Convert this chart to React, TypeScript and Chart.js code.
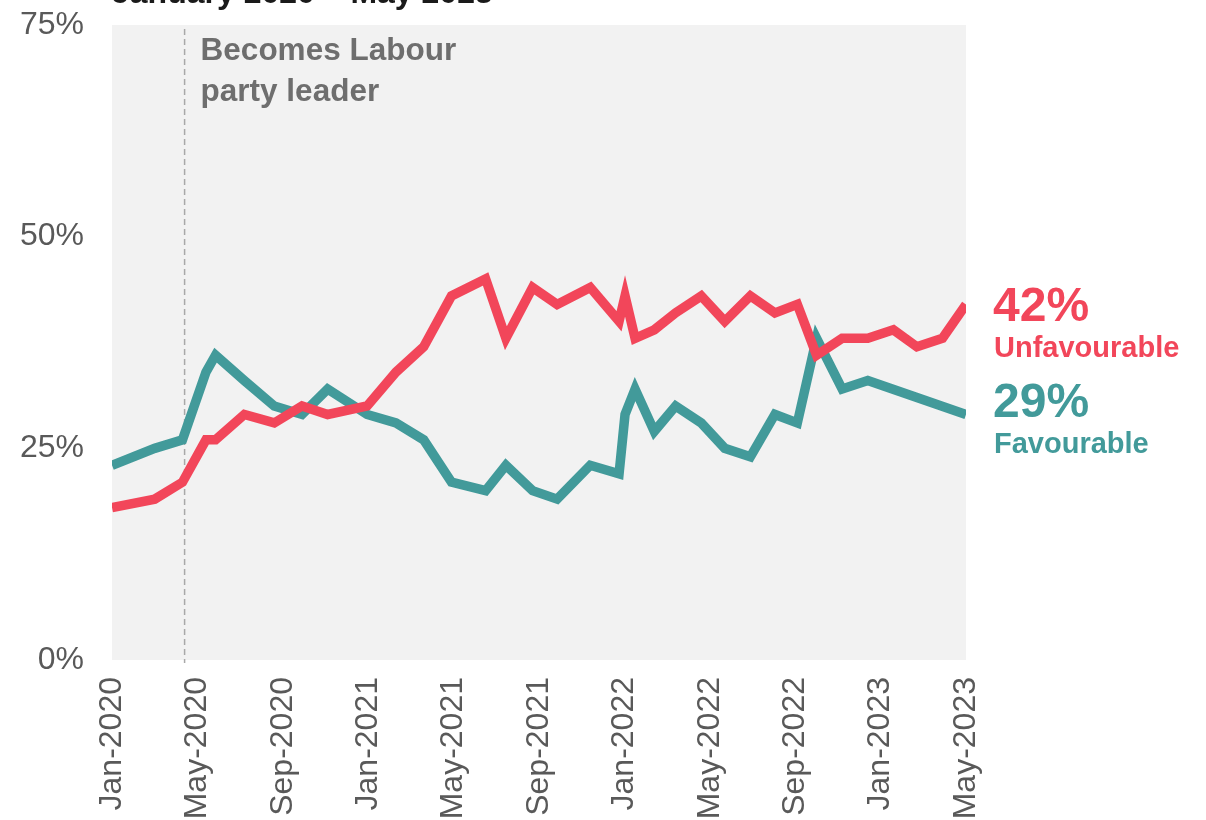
import React, { useEffect, useRef } from 'react';
import { Chart, registerables } from 'chart.js';

Chart.register(...registerables);

// Months since Jan-2020 for each survey wave
const surveyMonths = [0, 2, 3.3, 4.4, 4.85, 6.2, 7.6, 8.9, 10.1, 11.95, 13.3, 14.6, 15.9, 17.5, 18.45, 19.7, 20.85, 22.4, 23.75, 24.03, 24.5, 25.4, 26.4, 27.6, 28.7, 29.9, 31.05, 32.1, 33.0, 34.2, 35.4, 36.6, 37.7, 38.9, 40];
const unfavourable = [18, 19, 21, 26, 26, 29, 28, 30, 29, 30, 34, 37, 43, 45, 38, 44, 42, 44, 40, 43, 38, 39, 41, 43, 40, 43, 41, 42, 36, 38, 38, 39, 37, 38, 42];
const favourable = [23, 25, 26, 34, 36, 33, 30, 29, 32, 29, 28, 26, 21, 20, 23, 20, 19, 23, 22, 29, 32, 27, 30, 28, 25, 24, 29, 28, 38, 32, 33, null, 31, null, 29];

const xTickLabels = ['Jan-2020', 'May-2020', 'Sep-2020', 'Jan-2021', 'May-2021', 'Sep-2021', 'Jan-2022', 'May-2022', 'Sep-2022', 'Jan-2023', 'May-2023'];
const xTickStep = 4;
const yTicks = [0, 25, 50, 75];
const leaderMonth = 3.4;

const titleText = 'January 2020 – May 2023';
const annotationLines = ['Becomes Labour', 'party leader'];
const endLabels = [
  { value: '42%', name: 'Unfavourable', color: '#f2465a' },
  { value: '29%', name: 'Favourable', color: '#429a9a' },
];

const RED = '#f2465a';
const TEAL = '#429a9a';
const FONT = '"Liberation Sans", Arial, Helvetica, sans-serif';

export default function App() {
  const canvasRef = useRef<HTMLCanvasElement | null>(null);

  useEffect(() => {
    const canvas = canvasRef.current;
    if (!canvas) return;

    const bgPlugin = {
      id: 'bgPlugin',
      beforeDraw(chart: any) {
        const { ctx, chartArea } = chart;
        ctx.save();
        ctx.fillStyle = '#ffffff';
        ctx.fillRect(0, 0, chart.width, chart.height);
        ctx.fillStyle = '#f2f2f2';
        ctx.fillRect(chartArea.left, chartArea.top, chartArea.right - chartArea.left, chartArea.bottom - chartArea.top);
        ctx.restore();
      },
      beforeDatasetsDraw(chart: any) {
        const { ctx, chartArea, scales } = chart;
        const x = scales.x.getPixelForValue(leaderMonth);
        ctx.save();
        ctx.strokeStyle = '#a8a8a8';
        ctx.lineWidth = 1.5;
        ctx.setLineDash([6, 4]);
        ctx.beginPath();
        ctx.moveTo(x, chartArea.top + 4);
        ctx.lineTo(x, chartArea.bottom + 3);
        ctx.stroke();
        ctx.restore();
      },
      afterDraw(chart: any) {
        const { ctx, chartArea, scales } = chart;
        ctx.save();
        // Title (cut at top)
        ctx.fillStyle = '#1a1a1a';
        ctx.font = `bold 32px ${FONT}`;
        ctx.textAlign = 'left';
        ctx.textBaseline = 'alphabetic';
        ctx.fillText(titleText, chartArea.left, 3);

        // Annotation
        const ax = scales.x.getPixelForValue(leaderMonth) + 16;
        ctx.fillStyle = '#6e6e6e';
        ctx.font = `bold 31.5px ${FONT}`;
        ctx.fillText(annotationLines[0], ax, 60);
        ctx.fillText(annotationLines[1], ax, 101);

        // End labels
        const lx = chartArea.right + 28;
        const baselines = [[321, 357], [417, 453]];
        endLabels.forEach((l, i) => {
          ctx.fillStyle = l.color;
          ctx.font = `bold 48px ${FONT}`;
          ctx.fillText(l.value, lx - 1, baselines[i][0]);
          ctx.font = `bold 29px ${FONT}`;
          ctx.fillText(l.name, lx, baselines[i][1]);
        });
        ctx.restore();
      },
    };

    const chart = new Chart(canvas, {
      type: 'line',
      data: {
        labels: surveyMonths,
        datasets: [
          {
            label: 'Unfavourable',
            data: surveyMonths.map((m, i) => ({ x: m, y: unfavourable[i] })),
            borderColor: RED,
            backgroundColor: RED,
            borderWidth: 9.5,
            pointRadius: 0,
            pointHoverRadius: 0,
            tension: 0,
            fill: false,
          },
          {
            label: 'Favourable',
            data: surveyMonths.map((m, i) => ({ x: m, y: favourable[i] })),
            borderColor: TEAL,
            backgroundColor: TEAL,
            borderWidth: 9.5,
            pointRadius: 0,
            pointHoverRadius: 0,
            tension: 0,
            fill: false,
            spanGaps: true,
          },
        ],
      },
      options: {
        animation: false,
        responsive: false,
        devicePixelRatio: 1,
        layout: { padding: { top: 25, right: 240, left: 0, bottom: 0 } },
        plugins: {
          legend: { display: false },
          tooltip: { enabled: false },
          title: { display: false },
        },
        scales: {
          x: {
            type: 'linear',
            min: 0,
            max: 40,
            grid: { display: false, drawTicks: false },
            border: { display: false },
            afterBuildTicks: (s: any) => {
              s.ticks = xTickLabels.map((_, i) => ({ value: i * xTickStep }));
            },
            afterFit: (s: any) => {
              s.height = 160;
              s.paddingLeft = 0;
              s.paddingRight = 0;
            },
            ticks: {
              autoSkip: false,
              minRotation: 90,
              maxRotation: 90,
              padding: 17,
              color: '#595959',
              font: { family: FONT, size: 32 },
              callback: (v: any) => xTickLabels[Math.round(Number(v) / xTickStep)] ?? '',
            },
          },
          y: {
            min: 0,
            max: 75,
            grid: { display: false, drawTicks: false },
            border: { display: false },
            afterBuildTicks: (s: any) => {
              s.ticks = yTicks.map((v) => ({ value: v }));
            },
            afterFit: (s: any) => {
              s.width = 112;
              s.paddingTop = 0;
              s.paddingBottom = 0;
            },
            ticks: {
              padding: 28,
              color: '#595959',
              font: { family: FONT, size: 32 },
              callback: (v: any) => `${v}%`,
            },
          },
        },
      },
      plugins: [bgPlugin],
    } as any);

    return () => chart.destroy();
  }, []);

  return (
    <div style={{ position: 'absolute', left: 0, top: 0, width: 1206, height: 820, background: '#fff' }}>
      <canvas ref={canvasRef} width={1206} height={820} style={{ display: 'block', width: 1206, height: 820 }} />
    </div>
  );
}
